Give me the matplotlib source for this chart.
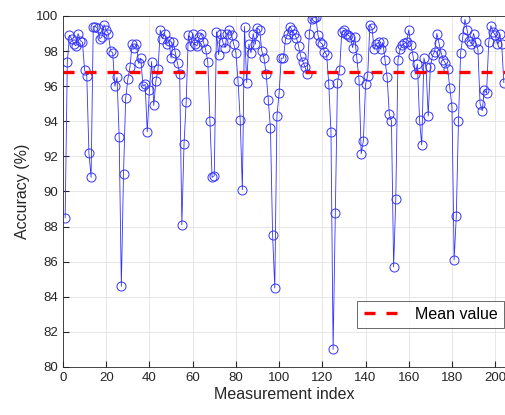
import numpy as np
import matplotlib
matplotlib.use("Agg")
import matplotlib.pyplot as plt

plt.rcParams['font.family'] = ['Liberation Sans', 'DejaVu Sans']

acc = [
    88.5, 97.4, 98.9, 98.7, 98.4, 98.3, 99.0, 98.6, 98.5, 96.9,
    96.6, 92.2, 90.8, 99.4, 99.4, 99.3, 98.7, 98.8, 99.5, 99.2,
    99.0, 98.0, 97.9, 96.0, 96.5, 93.1, 84.6, 91.0, 95.3, 96.4,
    97.1, 98.4, 98.2, 98.4, 97.3, 97.6, 96.0, 96.1, 93.4, 95.8,
    97.4, 94.9, 96.3, 97.0, 99.2, 98.7, 99.0, 98.4, 98.6, 97.6,
    98.5, 97.9, 97.3, 96.7, 88.1, 92.7, 95.1, 98.9, 98.3, 99.0,
    98.4, 98.3, 98.8, 99.0, 98.5, 98.1, 97.4, 94.0, 90.8, 90.9,
    99.1, 97.8, 99.0, 98.5, 98.2, 99.0, 99.2, 98.9, 98.4, 97.9,
    96.3, 94.1, 90.1, 99.4, 96.2, 98.4, 97.9, 99.0, 98.4, 99.3,
    99.2, 98.0, 97.6, 96.7, 95.2, 93.6, 87.5, 84.5, 94.3, 95.6,
    97.6, 97.6, 98.7, 99.0, 99.4, 99.2, 99.0, 98.75, 98.3, 97.7,
    97.4, 97.1, 96.7, 99.0, 99.85, 99.9, 99.95, 98.9, 98.5, 98.4,
    97.95, 97.8, 96.1, 93.4, 81.0, 88.8, 96.2, 96.9, 99.1, 99.2,
    99.0, 98.9, 98.8, 98.2, 98.8, 97.6, 96.35, 92.15, 92.9,
    96.1, 96.6, 99.5, 99.3, 98.1, 98.4, 98.5, 98.1, 98.5, 97.5,
    96.5, 94.4, 94.0, 85.7, 89.6,
    97.5, 98.1, 98.35, 98.44, 98.5, 99.2, 98.35, 97.7, 96.7, 97.25,
    94.07, 92.65, 97.6, 97.1, 94.3, 97.1, 97.75, 97.97, 99.0, 98.44,
    97.9, 97.5, 97.3, 97.0, 95.9, 94.8, 86.1, 88.6, 94.0, 97.9,
    98.8, 99.8, 99.2, 98.6, 98.4, 99.0, 98.5, 98.1, 95.0, 94.6,
    95.8, 95.6, 98.5, 99.45, 99.1, 98.9, 98.4, 99.0, 98.4, 96.2,
]
idx = np.arange(1, len(acc) + 1)
mean_acc = np.mean(acc)

fig = plt.figure(figsize=(5.06, 4.15), dpi=100)
ax = fig.add_axes([0.1245, 0.1157, 0.8755, 0.8458])

ax.plot(idx, acc, '-o', color=(0.2, 0.2, 1.0), lw=0.6, markersize=6.5,
        markerfacecolor='none', markeredgewidth=0.7)
ax.axhline(mean_acc, color='r', ls=(0, (3.3, 3.3)), lw=2.4, label='Mean value')

ax.set_xlim(0, 205)
ax.set_ylim(80, 100)
ax.set_xticks(np.arange(0, 201, 20))
ax.set_yticks(np.arange(80, 101, 2))
ax.grid(True, color='#e3e3e3', lw=0.6)
ax.set_axisbelow(True)

ax.tick_params(direction='in', labelsize=9.5, colors='#262626', length=4)
for s in ax.spines.values():
    s.set_color('#262626')
    s.set_linewidth(0.6)

ax.set_xlabel('Measurement index', fontsize=11.5, color='#262626', labelpad=2)
ax.set_ylabel('Accuracy (%)', fontsize=11.5, color='#262626', labelpad=4)

leg = ax.legend(loc='lower right', bbox_to_anchor=(1.013, 0.087), fontsize=11.5,
                frameon=True, fancybox=False, handlelength=2.4, borderpad=0.4)
leg.get_frame().set_edgecolor('#262626')
leg.get_frame().set_linewidth(0.6)

fig.savefig('out.png', dpi=100)
